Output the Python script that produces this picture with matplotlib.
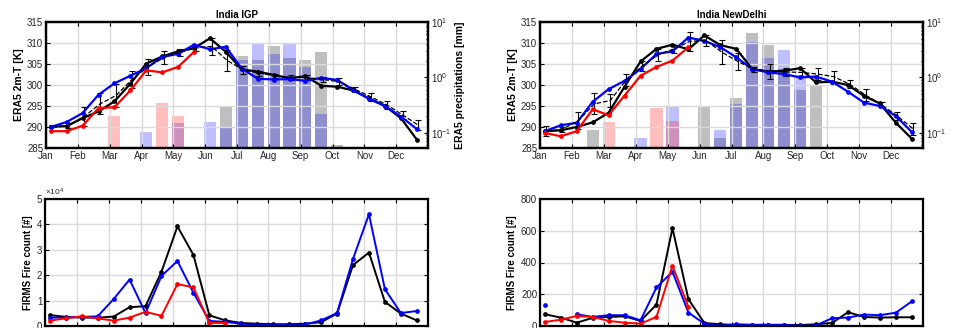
import numpy as np
import matplotlib
matplotlib.use('Agg')
import matplotlib.pyplot as plt
from matplotlib.ticker import FuncFormatter, LogLocator, FixedLocator

plt.rcParams['font.family'] = ['Liberation Sans', 'DejaVu Sans']
plt.rcParams['mathtext.fontset'] = 'custom'
plt.rcParams['mathtext.rm'] = 'Liberation Sans'
plt.rcParams['mathtext.it'] = 'Liberation Sans:italic'

nan = np.nan
months = ['Jan', 'Feb', 'Mar', 'Apr', 'May', 'Jun',
          'Jul', 'Aug', 'Sep', 'Oct', 'Nov', 'Dec']
# semi-monthly sampling, in month units from 1 Jan
pos = 0.15 + 0.5 * np.arange(24)

# ---- India IGP ----
igp_t_red = [289.0, 289.0, 290.3, 294.5, 294.7, 298.7, 303.5, 303.0, 304.3, 307.9,
             nan, nan, nan, nan, nan, nan, nan, nan, nan, nan, nan, nan, nan, nan]
igp_t_blue = [290.0, 291.2, 293.3, 297.7, 300.4, 302.2, 304.0, 306.7, 307.4, 309.6,
              308.5, 309.1, 303.9, 301.5, 301.3, 301.4, 301.0, 301.7, 301.2, 298.8,
              296.7, 295.0, 292.5, 289.5]
igp_t_black = [290.1, 290.2, 292.1, 293.7, 296.1, 300.3, 305.1, 306.8, 308.0, 308.8,
               311.1, 307.9, 303.7, 303.2, 302.4, 301.6, 302.1, 299.8, 299.6, 298.7,
               296.8, 295.0, 292.1, 287.0]
igp_t_mean = [289.8, 290.4, 292.5, 295.5, 297.5, 301.3, 304.3, 306.5, 307.8, 308.8,
              309.2, 305.8, 303.6, 302.8, 302.2, 301.8, 301.8, 301.3, 300.8, 299.0,
              297.2, 295.3, 292.9, 290.4]
igp_t_std = [0.7, 0.6, 2.3, 2.5, 2.8, 2.0, 1.8, 1.6, 0.8, 0.8,
             2.0, 2.5, 1.0, 0.6, 0.5, 0.5, 0.5, 0.7, 0.8, 0.5,
             0.9, 0.9, 1.0, 1.2]
igp_p_red = [nan, nan, nan, nan, 0.20, nan, nan, 0.345, 0.20, nan, nan, nan,
             nan, nan, nan, nan, nan, nan, nan, nan, nan, nan, nan, nan]
igp_p_blue = [nan, nan, nan, nan, nan, nan, 0.104, nan, 0.15, nan, 0.155, 0.127,
              2.1, 4.1, 2.63, 4.1, 1.52, 0.22, nan, nan, nan, nan, nan, nan]
igp_p_gray = [nan, nan, nan, nan, nan, nan, nan, nan, nan, nan, nan, 0.29,
              2.4, 2.1, 3.7, 2.26, 2.08, 2.85, 0.06, nan, nan, nan, nan, nan]
igp_f_red = [2100, 3000, 3800, 3000, 2100, 3300, 5600, 4000, 16500, 15200,
             1200, 1200, nan, nan, nan, nan, nan, nan, nan, nan, nan, nan, nan, nan]
igp_f_blue = [3300, 3300, 3600, 3800, 10600, 18300, 5100, 19700, 25600, 13100,
              2000, 1600, 900, 500, 400, 500, 600, 2200, 5100, 26400,
              44000, 14500, 5100, 5900]
igp_f_black = [4300, 3600, 3300, 3300, 3700, 7400, 7800, 21400, 39200, 28000,
               4200, 2200, 1200, 900, 700, 700, 900, 1500, 4900, 24000,
               28900, 9500, 4900, 2200]

# ---- India NewDelhi ----
nd_t_red = [288.6, 287.8, 289.0, 294.2, 292.8, 297.5, 302.2, 304.3, 305.8, 309.0,
            nan, nan, nan, nan, nan, nan, nan, nan, nan, nan, nan, nan, nan, nan]
nd_t_blue = [289.0, 290.4, 291.0, 296.0, 299.0, 301.0, 303.8, 307.4, 308.0, 311.3,
             310.5, 309.0, 306.6, 303.8, 303.0, 302.6, 301.8, 302.0, 300.8, 298.4,
             295.8, 295.0, 292.6, 288.8]
nd_t_black = [289.0, 289.2, 290.0, 291.1, 293.4, 299.6, 305.6, 308.6, 309.6, 308.5,
              311.8, 309.5, 308.6, 303.8, 303.2, 303.4, 304.0, 300.6, 300.8, 300.0,
              297.4, 295.6, 291.0, 287.2]
nd_t_mean = [289.0, 289.5, 291.5, 295.5, 296.3, 301.2, 304.5, 307.2, 308.6, 310.4,
             310.6, 307.8, 305.6, 303.8, 303.3, 303.1, 303.0, 302.6, 302.0, 300.2,
             297.6, 295.3, 292.6, 289.5]
nd_t_std = [1.2, 0.6, 2.0, 2.5, 1.5, 1.4, 1.2, 1.4, 1.0, 2.2,
            1.2, 2.8, 2.0, 0.6, 1.8, 1.0, 1.0, 1.5, 1.4, 1.0,
            1.5, 0.6, 1.0, 1.4]
nd_p_red = [nan, nan, nan, nan, 0.156, nan, nan, 0.275, 0.165, nan, nan, nan,
            nan, nan, nan, nan, nan, nan, nan, nan, nan, nan, nan, nan]
nd_p_blue = [nan, nan, nan, nan, nan, nan, 0.08, nan, 0.30, nan, nan, 0.11,
             0.33, 4.3, 2.2, 3.1, 1.1, nan, nan, nan, nan, nan, nan, nan]
nd_p_gray = [nan, nan, nan, 0.11, nan, nan, nan, nan, nan, nan, 0.29, 0.08,
             0.43, 6.3, 3.9, 1.4, 0.59, 0.7, nan, nan, nan, nan, nan, nan]
nd_f_red = [25, 40, 63, 57, 32, 21, 15, 57, 380, 120,
            nan, nan, nan, nan, nan, nan, nan, nan, nan, nan, nan, nan, nan, nan]
nd_f_blue = [133, nan, 74, 57, 68, 68, 36, 243, 342, 84,
             15, 2, 11, 8, 8, 8, 2, 4, 49, 53, 72, 68, 84, 155]
nd_f_black = [74, 53, 21, 51, 57, 61, 32, 135, 616, 169,
              19, 11, 6, 6, 6, 6, 6, 11, 19, 87, 57, 53, 55, 55]

W, H = 956, 328
fig = plt.figure(figsize=(W / 100, H / 100), dpi=100)

def px_axes(x0, y0, x1, y1):
    return fig.add_axes([x0 / W, 1 - y1 / H, (x1 - x0) / W, (y1 - y0) / H])

tick_col = '#262626'
grid_col = '#dadada'

def style(ax):
    for s in ax.spines.values():
        s.set_linewidth(1.6)
        s.set_color('black')
    ax.tick_params(direction='in', length=3, width=0.8, labelsize=7,
                   labelcolor=tick_col, top=True, pad=2)
    ax.set_xlim(0, 12)
    ax.set_xticks(np.arange(12))
    ax.set_xticklabels(months)
    ax.grid(True, color=grid_col, linewidth=1.0)
    ax.set_axisbelow(True)

def draw_bars(axr, vals, color):
    x = [p for p, v in zip(pos, vals) if not np.isnan(v)]
    v = [v for v in vals if not np.isnan(v)]
    axr.bar(x, v, width=0.38, color=color, alpha=0.25, linewidth=0)

def top_panel(box, title, t_red, t_blue, t_black, t_mean, t_std,
              p_red, p_blue, p_gray, right_label_pad):
    ax = px_axes(*box)
    axr = ax.twinx()
    axr.set_yscale('log', nonpositive='clip')
    draw_bars(axr, p_gray, 'black')
    draw_bars(axr, p_blue, 'blue')
    draw_bars(axr, p_red, 'red')
    axr.set_ylim(0.053, 10)
    axr.yaxis.set_major_locator(LogLocator(base=10, numticks=5))
    axr.tick_params(axis='y', which='both', direction='in', labelsize=7,
                    labelcolor=tick_col, width=0.8, pad=2)
    axr.tick_params(axis='y', which='major', length=3)
    axr.tick_params(axis='y', which='minor', length=1.5)
    axr.set_ylabel('ERA5 precipitations [mm]', fontsize=7.5, fontweight='bold',
                   labelpad=right_label_pad)
    for s in axr.spines.values():
        s.set_linewidth(1.6)

    ax.set_zorder(axr.get_zorder() + 1)
    ax.patch.set_visible(False)
    style(ax)
    ax.tick_params(axis='y', right=False)
    ax.errorbar(pos + 0.05, t_mean, yerr=t_std, color='black', linestyle='--',
                linewidth=0.9, elinewidth=0.8, capsize=2.5, capthick=0.8)
    ax.plot(pos, t_black, color='black', linewidth=1.6, marker='o', markersize=2.4)
    ax.plot(pos, t_blue, color='blue', linewidth=1.6, marker='o', markersize=2.4)
    ax.plot(pos, t_red, color='red', linewidth=1.6, marker='o', markersize=2.4)
    ax.set_ylim(285, 315)
    ax.set_yticks(np.arange(285, 316, 5))
    ax.set_ylabel('ERA5 2m-T [K]', fontsize=7.5, fontweight='bold', labelpad=2)
    ax.set_title(title, fontsize=7, fontweight='bold', pad=3)
    return ax

def fire_panel(box, f_red, f_blue, f_black):
    ax = px_axes(*box)
    style(ax)
    # month labels fall below the bottom edge of the figure
    ax.tick_params(axis='y', right=True)
    ax.tick_params(axis='x', labelbottom=False)
    ax.plot(pos, f_black, color='black', linewidth=1.4, marker='o', markersize=2.4)
    ax.plot(pos, f_blue, color='blue', linewidth=1.4, marker='o', markersize=2.4)
    ax.plot(pos, f_red, color='red', linewidth=1.4, marker='o', markersize=2.4)
    ax.set_ylabel('FIRMS Fire count [#]', fontsize=7, fontweight='bold', labelpad=3)
    return ax

top_panel((46, 22, 428, 148), 'India IGP', igp_t_red, igp_t_blue, igp_t_black,
          igp_t_mean, igp_t_std, igp_p_red, igp_p_blue, igp_p_gray, 3)
top_panel((540, 22, 923, 148), 'India NewDelhi', nd_t_red, nd_t_blue, nd_t_black,
          nd_t_mean, nd_t_std, nd_p_red, nd_p_blue, nd_p_gray, 8)

ax3 = fire_panel((45, 199, 428, 326), igp_f_red, igp_f_blue, igp_f_black)
ax3.set_ylim(0, 50000)
ax3.yaxis.set_major_locator(FixedLocator(np.arange(0, 50001, 10000)))
ax3.yaxis.set_major_formatter(FuncFormatter(lambda v, p: '%d' % round(v / 1e4)))
ax3.text(0.0, 1.01, r'$\times10^{4}$', transform=ax3.transAxes, fontsize=6,
         color=tick_col, ha='left', va='bottom')

ax4 = fire_panel((540, 199, 923, 326), nd_f_red, nd_f_blue, nd_f_black)
ax4.set_ylim(0, 800)
ax4.set_yticks(np.arange(0, 801, 200))

fig.savefig('out.png', dpi=100)
